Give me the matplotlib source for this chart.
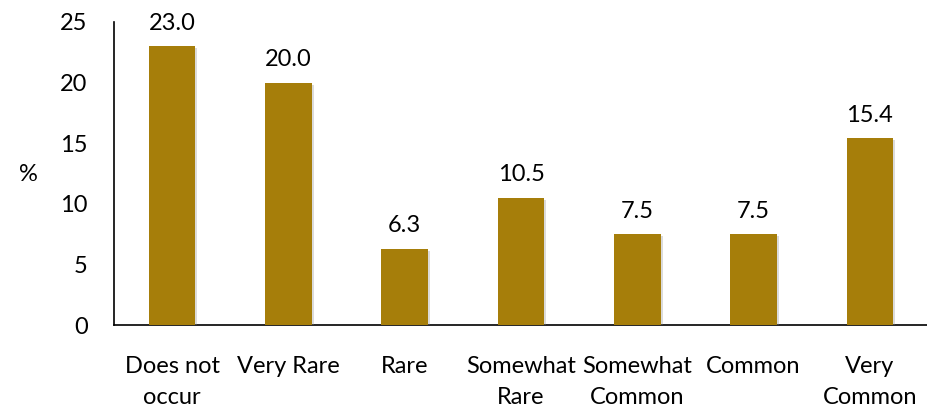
import matplotlib
matplotlib.use("Agg")
import matplotlib.pyplot as plt
import matplotlib.patheffects as pe

categories = ["Does not\noccur", "Very Rare", "Rare", "Somewhat\nRare", "Somewhat\nCommon", "Common", "Very\nCommon"]
values = [23.0, 20.0, 6.3, 10.5, 7.5, 7.5, 15.4]
yticks = [0, 5, 10, 15, 20, 25]

plt.rcParams['font.family'] = ['Lato', 'DejaVu Sans']

fig = plt.figure(figsize=(9.28, 4.09), dpi=100)
ax = fig.add_axes([114/928, (409-325)/409, 1 - 114/928, (325-22)/409])

x = list(range(len(categories)))
bars = ax.bar(x, values, width=0.40, color="#A67E0A", zorder=3)
for b in bars:
    b.set_path_effects([pe.SimplePatchShadow(offset=(1.5, -1.5), shadow_rgbFace="#888888", alpha=0.3), pe.Normal()])

for xi, v in zip(x, values):
    ax.annotate(f"{v:.1f}", (xi, v), xytext=(0, 9), textcoords="offset points",
                ha="center", va="bottom", fontsize=17, color="black")

ax.set_xlim(-0.5, len(categories) - 0.5)
ax.set_ylim(0, 25)
ax.set_yticks(yticks)
ax.set_yticklabels([str(t) for t in yticks], fontsize=17)
ax.set_xticks(x)
ax.set_xticklabels(categories, fontsize=17, linespacing=1.6)
ax.tick_params(axis='both', length=0)
ax.tick_params(axis='y', pad=19)
ax.tick_params(axis='x', pad=22)
ax.spines['top'].set_visible(False)
ax.spines['right'].set_visible(False)
ax.spines['left'].set_linewidth(1.2)
ax.spines['bottom'].set_linewidth(1.2)

fig.text(28/928, 1 - 175/409, "%", fontsize=17, ha="center", va="center")

fig.savefig("out.png", dpi=100)
